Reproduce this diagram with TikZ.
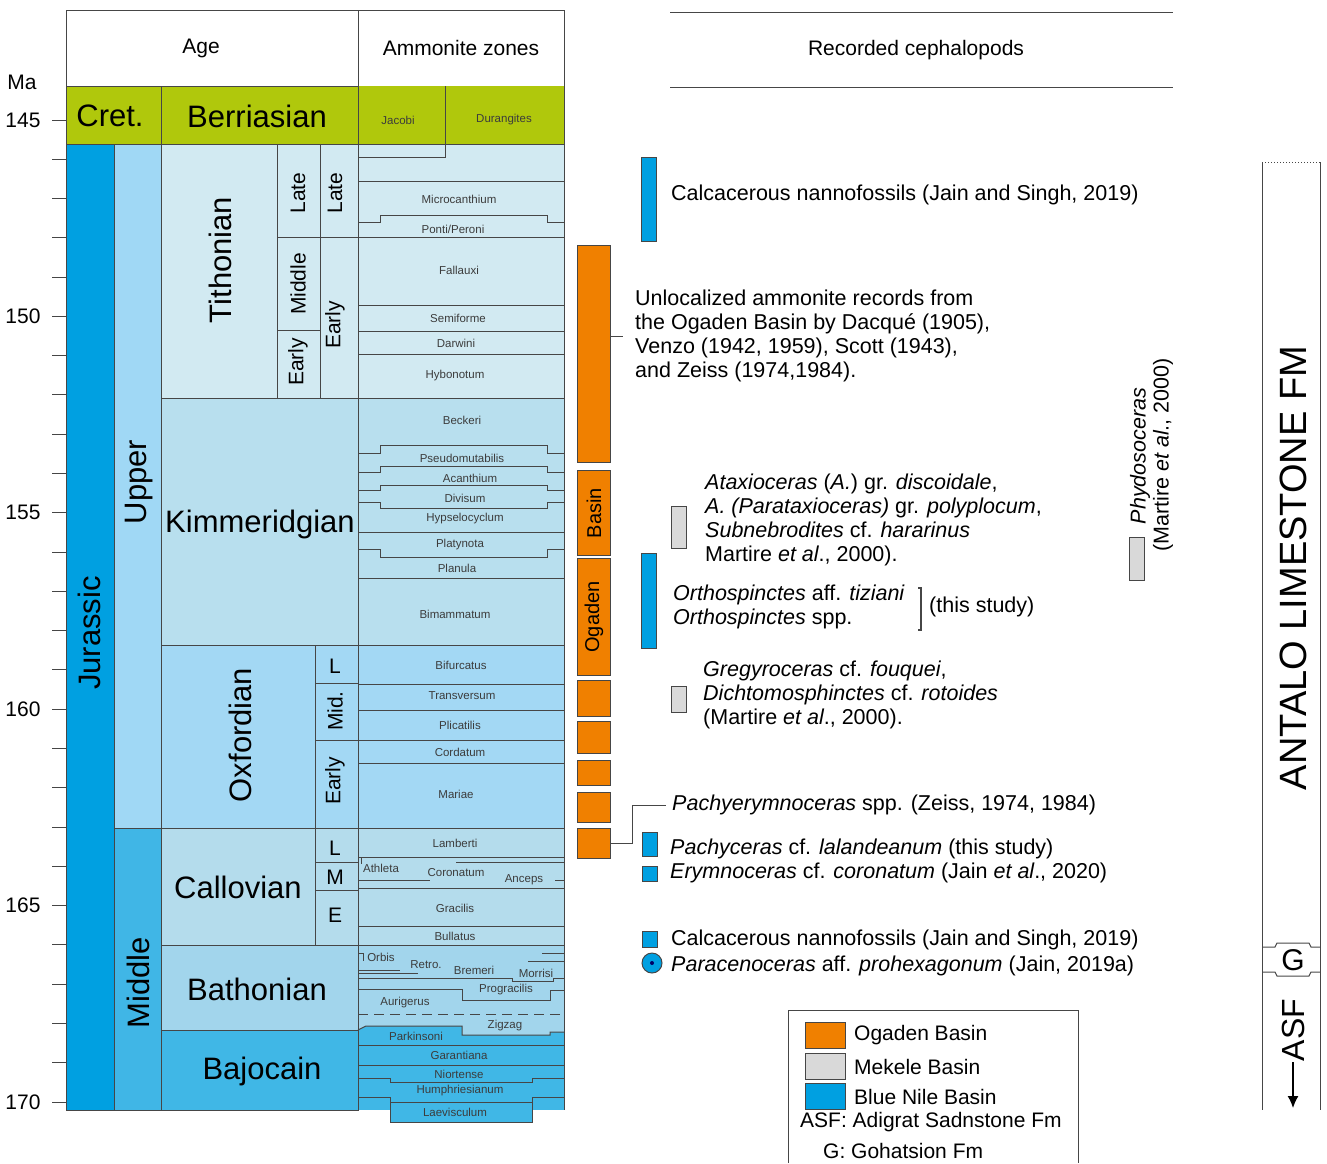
\documentclass[tikz,border=0pt]{standalone}
\usepackage{fontspec}
\setmainfont{Liberation Sans}
\usepackage{tikz}
\usetikzlibrary{positioning}
\usetikzlibrary{arrows.meta}

\definecolor{jura}{RGB}{0,160,225}
\definecolor{upperj}{RGB}{160,216,245}
\definecolor{middlej}{RGB}{64,182,230}
\definecolor{cret}{RGB}{176,200,12}
\definecolor{titho}{RGB}{210,234,242}
\definecolor{kimm}{RGB}{184,223,238}
\definecolor{oxf}{RGB}{163,216,244}
\definecolor{callo}{RGB}{180,220,236}
\definecolor{batho}{RGB}{162,213,236}
\definecolor{bajo}{RGB}{64,183,230}
\definecolor{ogaden}{RGB}{240,128,0}
\definecolor{mekele}{RGB}{217,217,217}
\definecolor{bluenile}{RGB}{0,160,225}
\definecolor{framegray}{RGB}{70,70,70}
\definecolor{zonegray}{RGB}{60,60,60}

\tikzset{
  cell/.style={draw=framegray, line width=1pt},
  bigname/.style={font=\fontsize{31}{36}\selectfont},
  subname/.style={font=\fontsize{21}{24}\selectfont},
  zonename/.style={font=\fontsize{11.5}{13}\selectfont, text=zonegray, inner sep=1pt},
  record/.style={font=\fontsize{21.5}{24}\selectfont, align=left, anchor=west, inner sep=0pt},
  ogbar/.style={cell, minimum width=33pt, inner sep=0pt, anchor=north west},
  thinbar/.style={cell, minimum width=15pt, inner sep=0pt, anchor=north west},
  legbox/.style={cell, minimum width=40pt, minimum height=26pt, inner sep=0pt, anchor=north west},
}

\begin{document}
\begin{tikzpicture}[x=1pt, y=-1pt]
    \useasboundingbox (0,0) rectangle (1327,1163);

    % heads
    \draw[cell, fill=white] (66,10) rectangle (358,86);
    \draw[cell, fill=white] (358,10) rectangle (564,86);
    \node[subname] (age) at (201,48) {Age};
    \node[subname] (zones) at (461,48) {Ammonite zones};
    \draw[cell] (670,12) -- (1173,12);
    \draw[cell] (670,87) -- (1173,87);
    \node[subname] (recorded) at (916,50) {Recorded cephalopods};

    % Ma scale
    \node[subname] (ma) at (22,82) {Ma};
    \foreach \m in {0,...,25}
      \draw[cell] (52,{120+39.28*\m}) -- (66,{120+39.28*\m});
    \foreach \m/\ma in {0/145,5/150,10/155,15/160,20/165,25/170}
      \node[subname, anchor=east] (ma\ma) at (44,{120+39.28*\m}) {\ma};

    % periods and epochs
    \draw[cell, fill=cret] (66,86) rectangle (161,144);
    \draw[cell, fill=jura] (66,144) rectangle (114,1110);
    \draw[cell, fill=upperj] (114,144) rectangle (161,828);
    \draw[cell, fill=middlej] (114,828) rectangle (161,1110);
    \node[bigname] (cret) at (110,116) {Cret.};
    \node[bigname, rotate=90] (jurassic) at (89,633) {Jurassic};
    \node[bigname, rotate=90] (upper) at (139,482) {Upper};
    \node[bigname, rotate=90] (middle) at (138,983) {Middle};

    % stages
    \foreach \top/\bot/\col in {86/144/cret, 144/398/titho, 398/645/kimm, 645/828/oxf,
        828/945/callo, 945/1030/batho, 1030/1110/bajo}
      \draw[cell, fill=\col] (161,\top) rectangle (358,\bot);
    \draw[cell] (277,144) -- (277,398) (320,144) -- (320,398);
    \draw[cell] (277,237) -- (358,237) (277,330) -- (320,330);
    \draw[cell] (315,645) -- (315,945);
    \draw[cell] (315,683) -- (358,683) (315,740) -- (358,740);
    \draw[cell] (315,862) -- (358,862) (315,890) -- (358,890);

    \node[bigname] (berrias) at (257,116) {Berriasian};
    \node[bigname, rotate=90] (tithon) at (220,260) {Tithonian};
    \node[bigname] (kimmer) at (260,524) {Kimmeridgian};
    \node[bigname, rotate=90] (oxford) at (240,735) {Oxfordian};
    \node[bigname] (callov) at (238,887) {Callovian};
    \node[bigname] (bathon) at (257,989) {Bathonian};
    \node[bigname] (bajoc) at (262,1071) {Bajocain};

    \node[subname, rotate=90] (tlate) at (298,193) {Late};
    \node[subname, rotate=90] (tmid) at (298,284) {Middle};
    \node[subname, rotate=90] (tearly) at (298,362) {Early};
    \node[subname, rotate=90] (tlate2) at (335,193) {Late};
    \node[subname, rotate=90] (tearly2) at (335,325) {Early};
    \node[subname] (ol) at (335,666) {L};
    \node[subname, rotate=90] (omid) at (335,711) {Mid.};
    \node[subname, rotate=90] (oearly) at (335,781) {Early};
    \node[subname] (cl) at (335,848) {L};
    \node[subname] (cm) at (335,877) {M};
    \node[subname] (ce) at (335,915) {E};

    % ammonite zones
    \foreach \top/\bot/\col in {86/144/cret, 144/398/titho, 398/645/kimm, 645/828/oxf,
        828/945/callo, 945/1110/bajo}
      \fill[\col] (358,\top) rectangle (564,\bot);
    \fill[batho] (358,945) -- (564,945) -- (564,1032) -- (550,1032) -- (550,1035)
      -- (462,1035) -- (462,1026) -- (366,1026) -- (358,1030) -- cycle;

    \foreach \y in {144,181,237,305,331,354,398,532,578,645,684,710,740,763,828,857,888,926,945,1045,1065}
      \draw[cell] (358,\y) -- (564,\y);
    \foreach \s/\m in {222/215, 453/445, 472/466, 490/485, 502/508, 549/557}
      \draw[cell] (358,\s) -- (380,\s) -- (380,\m) -- (547,\m) -- (547,\s) -- (564,\s);
    \draw[cell] (358,157) -- (445,157) -- (445,86);
    \draw[cell] (361,857) -- (361,864) (456,862) -- (564,862) (358,880) -- (430,880) (555,880) -- (564,880);
    \draw[cell] (358,953) -- (363,953) -- (363,961) (542,953) -- (564,953) (528,961) -- (564,961);
    \draw[cell] (358,970) -- (400,970) (358,973) -- (418,973);
    \draw[cell] (358,978) -- (512,978) -- (512,981) -- (553,981) -- (553,978) -- (564,978);
    \draw[cell] (358,989) -- (462,989) -- (462,1000) -- (550,1000) -- (550,990) -- (564,990);
    \draw[cell, dash pattern=on 10pt off 6pt] (358,1014) -- (564,1014);
    \draw[cell] (358,1030) -- (366,1026) -- (462,1026) -- (462,1035) -- (550,1035) -- (550,1032) -- (564,1032);
    \draw[cell] (358,1078) -- (390,1078) -- (390,1082) -- (532,1082) -- (532,1078) -- (564,1078);
    \draw[cell] (358,1097) -- (390,1097) -- (390,1102) -- (532,1102) -- (532,1097) -- (564,1097);
    \draw[cell, fill=bajo] (390,1102) rectangle (532,1122);
    \draw[cell] (358,86) -- (358,1110) (564,86) -- (564,1110);

    \node[zonename] (jacobi) at (398,120) {Jacobi};
    \node[zonename] (durang) at (504,120) {Durangites};
    \node[zonename] (microc) at (459,199) {Microcanthium};
    \node[zonename] (ponti) at (453,229) {Ponti/Peroni};
    \node[zonename] (fallau) at (459,270) {Fallauxi};
    \node[zonename] (semif) at (458,318) {Semiforme};
    \node[zonename] (darwin) at (456,343) {Darwini};
    \node[zonename] (hybon) at (455,376) {Hybonotum};
    \node[zonename] (becker) at (462,420) {Beckeri};
    \node[zonename] (pseudo) at (462,458) {Pseudomutabilis};
    \node[zonename] (acanth) at (470,478) {Acanthium};
    \node[zonename] (divis) at (465,498) {Divisum};
    \node[zonename] (hypsel) at (465,519) {Hypselocyclum};
    \node[zonename] (platyn) at (460,545) {Platynota};
    \node[zonename] (planul) at (457,568) {Planula};
    \node[zonename] (bimamm) at (455,614) {Bimammatum};
    \node[zonename] (bifurc) at (461,665) {Bifurcatus};
    \node[zonename] (transv) at (462,696) {Transversum};
    \node[zonename] (plicat) at (460,725) {Plicatilis};
    \node[zonename] (cordat) at (460,752) {Cordatum};
    \node[zonename] (mariae) at (456,794) {Mariae};
    \node[zonename] (lamber) at (455,843) {Lamberti};
    \node[zonename] (athlet) at (381,868) {Athleta};
    \node[zonename] (corona) at (456,873) {Coronatum};
    \node[zonename] (anceps) at (524,880) {Anceps};
    \node[zonename] (gracil) at (455,908) {Gracilis};
    \node[zonename] (bullat) at (455,936) {Bullatus};
    \node[zonename] (orbis) at (381,957) {Orbis};
    \node[zonename] (retro) at (426,965) {Retro.};
    \node[zonename] (bremer) at (474,970) {Bremeri};
    \node[zonename] (morris) at (536,973) {Morrisi};
    \node[zonename] (progra) at (506,990) {Progracilis};
    \node[zonename] (aurige) at (405,1003) {Aurigerus};
    \node[zonename] (zigzag) at (505,1026) {Zigzag};
    \node[zonename] (parkin) at (416,1036) {Parkinsoni};
    \node[zonename] (garant) at (459,1055) {Garantiana};
    \node[zonename] (niort) at (459,1074) {Niortense};
    \node[zonename] (humphr) at (460,1091) {Humphriesianum};
    \node[zonename] (laevis) at (455,1112) {Laevisculum};

    % Ogaden bars
    \node[ogbar, fill=ogaden, minimum height=217pt] (og1) at (577,245) {};
    \node[ogbar, fill=ogaden, minimum height=85pt] (og2) at (577,470) {};
    \node[ogbar, fill=ogaden, minimum height=117pt] (og3) at (577,558) {};
    \node[ogbar, fill=ogaden, minimum height=36pt] (og4) at (577,680) {};
    \node[ogbar, fill=ogaden, minimum height=32pt] (og5) at (577,721) {};
    \node[ogbar, fill=ogaden, minimum height=25pt] (og6) at (577,760) {};
    \node[ogbar, fill=ogaden, minimum height=30pt] (og7) at (577,792) {};
    \node[ogbar, fill=ogaden, minimum height=30pt] (og8) at (577,828) {};
    \node[subname, font=\fontsize{20}{24}\selectfont, rotate=90] (basin) at (og2) {Basin};
    \node[subname, font=\fontsize{20}{24}\selectfont, rotate=90] (ogad) at (og3) {Ogaden};

    % Blue Nile and Mekele marks
    \node[thinbar, fill=bluenile, minimum height=84pt] (bn1) at (641,157) {};
    \node[thinbar, fill=bluenile, minimum height=95pt] (bn2) at (641,553) {};
    \node[thinbar, fill=bluenile, minimum height=24pt] (bn3) at (642,832) {};
    \node[thinbar, fill=bluenile, minimum height=15pt] (bn4) at (642,866) {};
    \node[thinbar, fill=bluenile, minimum height=16pt] (bn5) at (642,931) {};
    \node[cell, fill=bluenile, circle, minimum size=20pt, inner sep=0pt] (bn6) at (652,963) {};
    \fill[blue!40!black] (bn6) circle (2pt);
    \node[thinbar, fill=mekele, minimum height=42pt] (mk1) at (671,506) {};
    \node[thinbar, fill=mekele, minimum height=26pt] (mk2) at (671,686) {};
    \node[thinbar, fill=mekele, minimum height=43pt] (mk3) at (1129,537) {};

    % records
    \node[record] (calc1) at (671,195) {Calcacerous nannofossils (Jain and Singh, 2019)};
    \node[record] (unloc) at (635,336) {Unlocalized ammonite records from\\
      the Ogaden Basin by Dacqué (1905),\\ Venzo (1942, 1959), Scott (1943),\\
      and Zeiss (1974,1984).};
    \draw[cell] (og1.east |- unloc.west) -- ++(12,0);
    \node[record] (atax) at (705,520) {\textit{Ataxioceras} (\textit{A.}) gr. \textit{discoidale},\\
      \textit{A. (Parataxioceras)} gr. \textit{polyplocum},\\
      \textit{Subnebrodites} cf. \textit{hararinus}\\ Martire \textit{et al}., 2000).};
    \node[record] (ortho) at (673,607) {\textit{Orthospinctes} aff. \textit{tiziani}\\
      \textit{Orthospinctes} spp.};
    \coordinate (brtop) at (921,588);
    \coordinate (brbot) at (921,630);
    \draw[cell, line width=1.8pt] ([xshift=-3pt]brtop) -- (brtop) -- (brbot) -- ([xshift=-3pt]brbot);
    \node[record] (study) at (929,607) {(this study)};
    \node[record] (gregy) at (703,695) {\textit{Gregyroceras} cf. \textit{fouquei},\\
      \textit{Dichtomosphinctes} cf. \textit{rotoides}\\ (Martire \textit{et al}., 2000).};
    \node[record] (pachy) at (672,805) {\textit{Pachyerymnoceras} spp. (Zeiss, 1974, 1984)};
    \draw[cell] (og8.east) -- ++(21,0) |- ([xshift=-6pt]pachy.west);
    \node[record] (pachyc) at (670,849) {\textit{Pachyceras} cf. \textit{lalandeanum} (this study)};
    \node[record] (erymn) at (670,873) {\textit{Erymnoceras} cf. \textit{coronatum} (Jain \textit{et al}., 2020)};
    \node[record] (calc2) at (671,940) {Calcacerous nannofossils (Jain and Singh, 2019)};
    \node[record] (parac) at (671,966) {\textit{Paracenoceras} aff. \textit{prohexagonum} (Jain, 2019a)};
    \node[record, anchor=center, rotate=90] (phydo) at (1140,456) {\textit{Phydosoceras}};
    \node[record, anchor=center, rotate=90] (phydo2) at (1163,455) {(Martire \textit{et al}., 2000)};

    % formations
    \draw[cell] (1262,162) -- (1262,1110) (1320,162) -- (1320,1110);
    \draw[cell, dotted] (1262,162) -- (1320,162);
    \node[font=\fontsize{38}{40}\selectfont, rotate=90] (antalo) at (1293,568) {ANTALO LIMESTONE FM};
    \draw[cell] (1262,947) -- (1275,947) -- (1277,943) -- (1309,943) -- (1311,947) -- (1320,947);
    \draw[cell] (1262,972) -- (1275,972) -- (1277,976) -- (1309,976) -- (1311,972) -- (1320,972);
    \node[font=\fontsize{30}{32}\selectfont] (gform) at (1293,960) {G};
    \node[font=\fontsize{32}{34}\selectfont, rotate=90, inner sep=1pt] (asf) at (1293,1030) {ASF};
    \coordinate (asfend) at (1293,1108);
    \draw[draw=black, line width=1.4pt, -{Latex[length=12pt, width=11pt]}] (asf.west) -- (asfend);

    % legend
    \draw[cell] (788,1163) -- (788,1010) -- (1078,1010) -- (1078,1163);
    \node[legbox, fill=ogaden] (legog) at (805,1022) {};
    \node[legbox, fill=mekele] (legmk) at (805,1053) {};
    \node[legbox, fill=bluenile] (legbn) at (805,1083) {};
    \node[record, font=\fontsize{21}{24}\selectfont, right=8pt of legog] (legogt) {Ogaden Basin};
    \node[record, font=\fontsize{21}{24}\selectfont, right=8pt of legmk] (legmkt) {Mekele Basin};
    \node[record, font=\fontsize{21}{24}\selectfont, right=8pt of legbn] (legbnt) {Blue Nile Basin};
    \node[record, font=\fontsize{21}{24}\selectfont] (legasf) at (800,1122) {ASF: Adigrat Sadnstone Fm};
    \node[record, font=\fontsize{21}{24}\selectfont] (legg) at (823,1151) {G: Gohatsion Fm};
\end{tikzpicture}
\end{document}
